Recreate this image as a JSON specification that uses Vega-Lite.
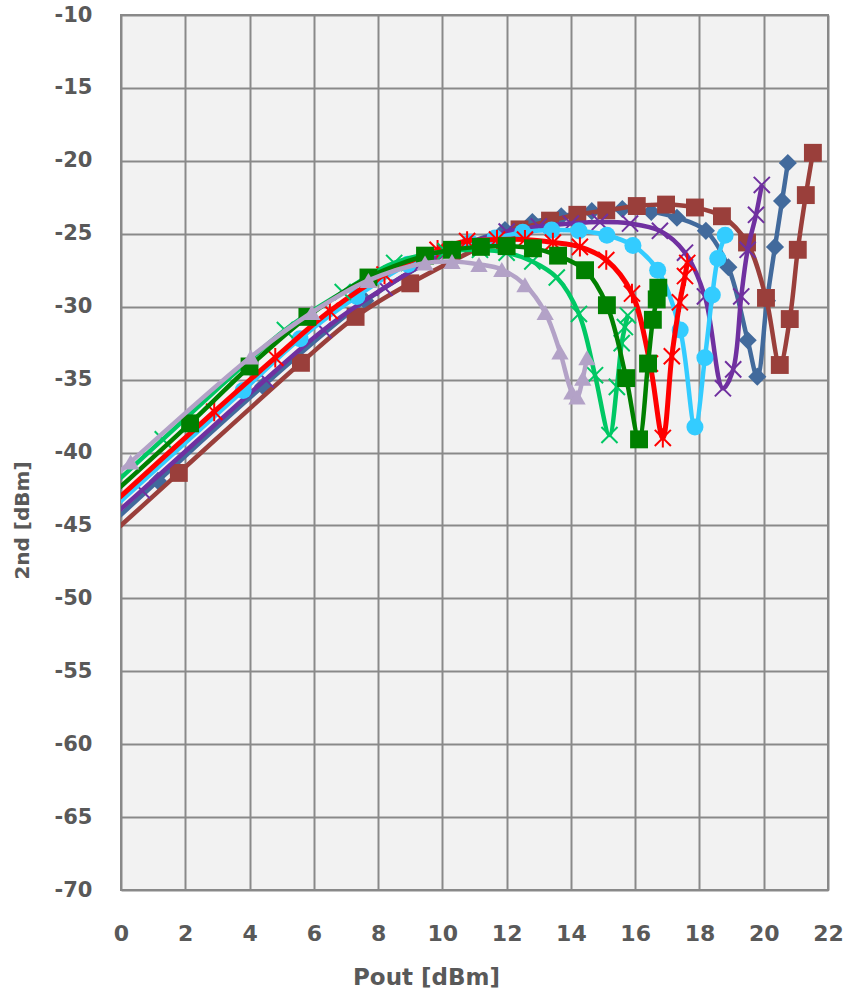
{
  "$schema": "https://vega.github.io/schema/vega-lite/v6.json",
  "width": 707,
  "height": 875,
  "autosize": {"type": "none"},
  "padding": {"left": 121, "top": 15, "right": 20, "bottom": 108},
  "background": "#ffffff",
  "config": {
    "view": {"fill": "#f2f2f2", "stroke": "#898989", "strokeWidth": 2},
    "axis": {"gridColor": "#898989", "gridWidth": 2, "gridOpacity": 1, "domain": false, "ticks": false, "labelColor": "#595959", "titleColor": "#595959", "labelFont": "DejaVu Sans", "titleFont": "DejaVu Sans", "labelFontWeight": "bold", "titleFontWeight": "bold", "labelFlush": false, "labelOverlap": false, "labelExpr": "toString(datum.value)"}
  },
  "data": {"values": [
    {"s":"S1","i":0,"x":-1.8,"y":-48.6},{"s":"S1","i":1,"x":1.8,"y":-41.4},{"s":"S1","i":2,"x":5.6,"y":-33.85},{"s":"S1","i":3,"x":7.3,"y":-30.7},{"s":"S1","i":4,"x":9.0,"y":-28.4},{"s":"S1","i":5,"x":12.4,"y":-24.7},{"s":"S1","i":6,"x":13.35,"y":-24.1},{"s":"S1","i":7,"x":14.2,"y":-23.7},{"s":"S1","i":8,"x":15.1,"y":-23.4},{"s":"S1","i":9,"x":16.05,"y":-23.1},{"s":"S1","i":10,"x":16.96,"y":-23.0},{"s":"S1","i":11,"x":17.86,"y":-23.2},{"s":"S1","i":12,"x":18.7,"y":-23.8},{"s":"S1","i":13,"x":19.48,"y":-25.6},{"s":"S1","i":14,"x":20.07,"y":-29.4},{"s":"S1","i":15,"x":20.5,"y":-34.0},{"s":"S1","i":16,"x":20.81,"y":-30.85},{"s":"S1","i":17,"x":21.06,"y":-26.1},{"s":"S1","i":18,"x":21.31,"y":-22.35},{"s":"S1","i":19,"x":21.53,"y":-19.45},
    {"s":"S2","i":0,"x":-1.6,"y":-47.5},{"s":"S2","i":1,"x":1.15,"y":-41.95},{"s":"S2","i":2,"x":4.42,"y":-35.45},{"s":"S2","i":3,"x":7.6,"y":-29.6},{"s":"S2","i":4,"x":10.3,"y":-26.1},{"s":"S2","i":5,"x":11.95,"y":-24.75},{"s":"S2","i":6,"x":12.8,"y":-24.2},{"s":"S2","i":7,"x":13.7,"y":-23.8},{"s":"S2","i":8,"x":14.65,"y":-23.45},{"s":"S2","i":9,"x":15.6,"y":-23.3},{"s":"S2","i":10,"x":16.5,"y":-23.5},{"s":"S2","i":11,"x":17.3,"y":-23.9},{"s":"S2","i":12,"x":18.2,"y":-24.8},{"s":"S2","i":13,"x":18.9,"y":-27.3},{"s":"S2","i":14,"x":19.5,"y":-32.3},{"s":"S2","i":15,"x":19.8,"y":-34.8},{"s":"S2","i":16,"x":20.1,"y":-29.6},{"s":"S2","i":17,"x":20.35,"y":-25.9},{"s":"S2","i":18,"x":20.57,"y":-22.75},{"s":"S2","i":19,"x":20.75,"y":-20.15},
    {"s":"S3","i":0,"x":-1.2,"y":-46.2},{"s":"S3","i":1,"x":0.65,"y":-42.6},{"s":"S3","i":2,"x":4.5,"y":-35.0},{"s":"S3","i":3,"x":6.3,"y":-31.6},{"s":"S3","i":4,"x":8.2,"y":-28.7},{"s":"S3","i":5,"x":10.1,"y":-26.3},{"s":"S3","i":6,"x":12.0,"y":-24.85},{"s":"S3","i":7,"x":13.0,"y":-24.5},{"s":"S3","i":8,"x":14.0,"y":-24.3},{"s":"S3","i":9,"x":14.9,"y":-24.2},{"s":"S3","i":10,"x":15.84,"y":-24.3},{"s":"S3","i":11,"x":16.77,"y":-24.8},{"s":"S3","i":12,"x":17.55,"y":-26.3},{"s":"S3","i":13,"x":18.17,"y":-29.3},{"s":"S3","i":14,"x":18.73,"y":-35.6},{"s":"S3","i":15,"x":19.05,"y":-34.3},{"s":"S3","i":16,"x":19.3,"y":-29.3},{"s":"S3","i":17,"x":19.5,"y":-26.1},{"s":"S3","i":18,"x":19.76,"y":-23.7},{"s":"S3","i":19,"x":19.94,"y":-21.65},
    {"s":"S4","i":0,"x":-1.7,"y":-46.7},{"s":"S4","i":1,"x":3.8,"y":-35.75},{"s":"S4","i":2,"x":5.57,"y":-32.2},{"s":"S4","i":3,"x":7.34,"y":-29.3},{"s":"S4","i":4,"x":8.93,"y":-27.1},{"s":"S4","i":5,"x":10.86,"y":-25.6},{"s":"S4","i":6,"x":11.64,"y":-25.3},{"s":"S4","i":7,"x":12.5,"y":-24.9},{"s":"S4","i":8,"x":13.4,"y":-24.75},{"s":"S4","i":9,"x":14.25,"y":-24.8},{"s":"S4","i":10,"x":15.12,"y":-25.1},{"s":"S4","i":11,"x":15.93,"y":-25.8},{"s":"S4","i":12,"x":16.7,"y":-27.5},{"s":"S4","i":13,"x":17.4,"y":-31.6},{"s":"S4","i":14,"x":17.86,"y":-38.25},{"s":"S4","i":15,"x":18.17,"y":-33.5},{"s":"S4","i":16,"x":18.4,"y":-29.2},{"s":"S4","i":17,"x":18.57,"y":-26.7},{"s":"S4","i":18,"x":18.8,"y":-25.1},
    {"s":"S5","i":0,"x":-0.9,"y":-44.8},{"s":"S5","i":1,"x":2.9,"y":-37.2},{"s":"S5","i":2,"x":4.8,"y":-33.5},{"s":"S5","i":3,"x":6.5,"y":-30.3},{"s":"S5","i":4,"x":8.2,"y":-27.8},{"s":"S5","i":5,"x":9.85,"y":-26.1},{"s":"S5","i":6,"x":10.77,"y":-25.5},{"s":"S5","i":7,"x":11.7,"y":-25.4},{"s":"S5","i":8,"x":12.57,"y":-25.4},{"s":"S5","i":9,"x":13.44,"y":-25.6},{"s":"S5","i":10,"x":14.28,"y":-25.9},{"s":"S5","i":11,"x":15.1,"y":-26.8},{"s":"S5","i":12,"x":15.9,"y":-29.1},{"s":"S5","i":13,"x":16.46,"y":-33.9},{"s":"S5","i":14,"x":16.86,"y":-39.0},{"s":"S5","i":15,"x":17.14,"y":-33.4},{"s":"S5","i":16,"x":17.39,"y":-29.7},{"s":"S5","i":17,"x":17.55,"y":-27.9},{"s":"S5","i":18,"x":17.62,"y":-27.0},
    {"s":"S6","i":0,"x":-1.7,"y":-45.7},{"s":"S6","i":1,"x":2.15,"y":-38.0},{"s":"S6","i":2,"x":4.0,"y":-34.1},{"s":"S6","i":3,"x":5.8,"y":-30.7},{"s":"S6","i":4,"x":7.7,"y":-28.0},{"s":"S6","i":5,"x":9.46,"y":-26.5},{"s":"S6","i":6,"x":10.3,"y":-26.1},{"s":"S6","i":7,"x":11.2,"y":-25.9},{"s":"S6","i":8,"x":12.0,"y":-25.85},{"s":"S6","i":9,"x":12.82,"y":-26.0},{"s":"S6","i":10,"x":13.6,"y":-26.5},{"s":"S6","i":11,"x":14.44,"y":-27.5},{"s":"S6","i":12,"x":15.12,"y":-29.9},{"s":"S6","i":13,"x":15.72,"y":-34.9},{"s":"S6","i":14,"x":16.12,"y":-39.1},{"s":"S6","i":15,"x":16.4,"y":-33.9},{"s":"S6","i":16,"x":16.55,"y":-30.9},{"s":"S6","i":17,"x":16.67,"y":-29.5},{"s":"S6","i":18,"x":16.72,"y":-28.7},
    {"s":"S7","i":0,"x":-1.6,"y":-45.0},{"s":"S7","i":1,"x":1.3,"y":-39.1},{"s":"S7","i":2,"x":5.1,"y":-31.6},{"s":"S7","i":3,"x":6.9,"y":-29.0},{"s":"S7","i":4,"x":8.5,"y":-27.0},{"s":"S7","i":5,"x":10.1,"y":-26.2},{"s":"S7","i":6,"x":11.17,"y":-26.1},{"s":"S7","i":7,"x":12.0,"y":-26.3},{"s":"S7","i":8,"x":12.8,"y":-26.9},{"s":"S7","i":9,"x":13.56,"y":-28.0},{"s":"S7","i":10,"x":14.25,"y":-30.5},{"s":"S7","i":11,"x":14.75,"y":-34.7},{"s":"S7","i":12,"x":15.2,"y":-38.8},{"s":"S7","i":13,"x":15.43,"y":-35.5},{"s":"S7","i":14,"x":15.58,"y":-32.5},{"s":"S7","i":15,"x":15.68,"y":-31.4},{"s":"S7","i":16,"x":15.77,"y":-30.6},
    {"s":"S8","i":0,"x":-1.6,"y":-44.45},{"s":"S8","i":1,"x":0.3,"y":-40.65},{"s":"S8","i":2,"x":4.04,"y":-33.45},{"s":"S8","i":3,"x":5.94,"y":-30.4},{"s":"S8","i":4,"x":7.7,"y":-28.2},{"s":"S8","i":5,"x":9.46,"y":-27.0},{"s":"S8","i":6,"x":10.3,"y":-26.9},{"s":"S8","i":7,"x":11.14,"y":-27.1},{"s":"S8","i":8,"x":11.85,"y":-27.45},{"s":"S8","i":9,"x":12.57,"y":-28.5},{"s":"S8","i":10,"x":13.2,"y":-30.4},{"s":"S8","i":11,"x":13.66,"y":-33.1},{"s":"S8","i":12,"x":14.03,"y":-35.85},{"s":"S8","i":13,"x":14.19,"y":-36.2},{"s":"S8","i":14,"x":14.37,"y":-34.9},{"s":"S8","i":15,"x":14.5,"y":-33.5}
  ]},
  "encoding": {
    "x": {"field": "x", "type": "quantitative", "scale": {"domain": [0, 22], "nice": false, "zero": false},
      "axis": {"values": [0,2,4,6,8,10,12,14,16,18,20,22], "title": "Pout [dBm]", "labelFontSize": 22, "labelPadding": 33, "titleFontSize": 23, "titleX": 305, "titleY": 87, "titleAlign": "center", "titleBaseline": "middle"}},
    "y": {"field": "y", "type": "quantitative", "scale": {"domain": [-70, -10], "nice": false, "zero": false},
      "axis": {"values": [-70,-65,-60,-55,-50,-45,-40,-35,-30,-25,-20,-15,-10], "title": "2nd [dBm]", "labelFontSize": 21, "labelPadding": 29, "titleFontSize": 20, "titleX": -99, "titleY": 505, "titleAngle": 270, "titleAlign": "center", "titleBaseline": "middle"}}
  },
  "layer": [
    {"transform": [{"filter": "datum.s === 'S2'"}], "mark": {"type": "line", "color": "#426A9C", "strokeWidth": 4.5, "interpolate": "catmull-rom", "clip": true}, "encoding": {"order": {"field": "i", "type": "quantitative"}}},
    {"transform": [{"filter": "datum.s === 'S2'"}], "mark": {"type": "point", "shape": "diamond", "size": 330, "filled": true, "opacity": 1, "color": "#426A9C", "clip": true}},
    {"transform": [{"filter": "datum.s === 'S1'"}], "mark": {"type": "line", "color": "#9A3F3B", "strokeWidth": 4.5, "interpolate": "catmull-rom", "clip": true}, "encoding": {"order": {"field": "i", "type": "quantitative"}}},
    {"transform": [{"filter": "datum.s === 'S1'"}], "mark": {"type": "point", "shape": "square", "size": 320, "filled": true, "opacity": 1, "color": "#9A3F3B", "clip": true}},
    {"transform": [{"filter": "datum.s === 'S3'"}], "mark": {"type": "line", "color": "#7030A0", "strokeWidth": 4.5, "interpolate": "catmull-rom", "clip": true}, "encoding": {"order": {"field": "i", "type": "quantitative"}}},
    {"transform": [{"filter": "datum.s === 'S3'"}], "mark": {"type": "point", "shape": "M-1,-1L1,1M-1,1L1,-1", "size": 260, "filled": false, "strokeWidth": 2, "opacity": 1, "color": "#7030A0", "clip": true}},
    {"transform": [{"filter": "datum.s === 'S4'"}], "mark": {"type": "line", "color": "#33CCFF", "strokeWidth": 4.5, "interpolate": "catmull-rom", "clip": true}, "encoding": {"order": {"field": "i", "type": "quantitative"}}},
    {"transform": [{"filter": "datum.s === 'S4'"}], "mark": {"type": "point", "shape": "circle", "size": 290, "filled": true, "opacity": 1, "color": "#33CCFF", "clip": true}},
    {"transform": [{"filter": "datum.s === 'S5'"}], "mark": {"type": "line", "color": "#FF0000", "strokeWidth": 5, "interpolate": "catmull-rom", "clip": true}, "encoding": {"order": {"field": "i", "type": "quantitative"}}},
    {"transform": [{"filter": "datum.s === 'S5'"}], "mark": {"type": "point", "shape": "M-1,-1L1,1M-1,1L1,-1M0,-1.2L0,1.2", "size": 260, "filled": false, "strokeWidth": 2, "opacity": 1, "color": "#FF0000", "clip": true}},
    {"transform": [{"filter": "datum.s === 'S7'"}], "mark": {"type": "line", "color": "#00C864", "strokeWidth": 4.5, "interpolate": "catmull-rom", "clip": true}, "encoding": {"order": {"field": "i", "type": "quantitative"}}},
    {"transform": [{"filter": "datum.s === 'S7'"}], "mark": {"type": "point", "shape": "M-1,-1L1,1M-1,1L1,-1", "size": 260, "filled": false, "strokeWidth": 2, "opacity": 1, "color": "#00C864", "clip": true}},
    {"transform": [{"filter": "datum.s === 'S6'"}], "mark": {"type": "line", "color": "#008000", "strokeWidth": 4.5, "interpolate": "catmull-rom", "clip": true}, "encoding": {"order": {"field": "i", "type": "quantitative"}}},
    {"transform": [{"filter": "datum.s === 'S6'"}], "mark": {"type": "point", "shape": "square", "size": 320, "filled": true, "opacity": 1, "color": "#008000", "clip": true}},
    {"transform": [{"filter": "datum.s === 'S8'"}], "mark": {"type": "line", "color": "#B3A2C7", "strokeWidth": 4.5, "interpolate": "catmull-rom", "clip": true}, "encoding": {"order": {"field": "i", "type": "quantitative"}}},
    {"transform": [{"filter": "datum.s === 'S8'"}], "mark": {"type": "point", "shape": "triangle-up", "size": 300, "filled": true, "opacity": 1, "color": "#B3A2C7", "clip": true}}
  ]
}
